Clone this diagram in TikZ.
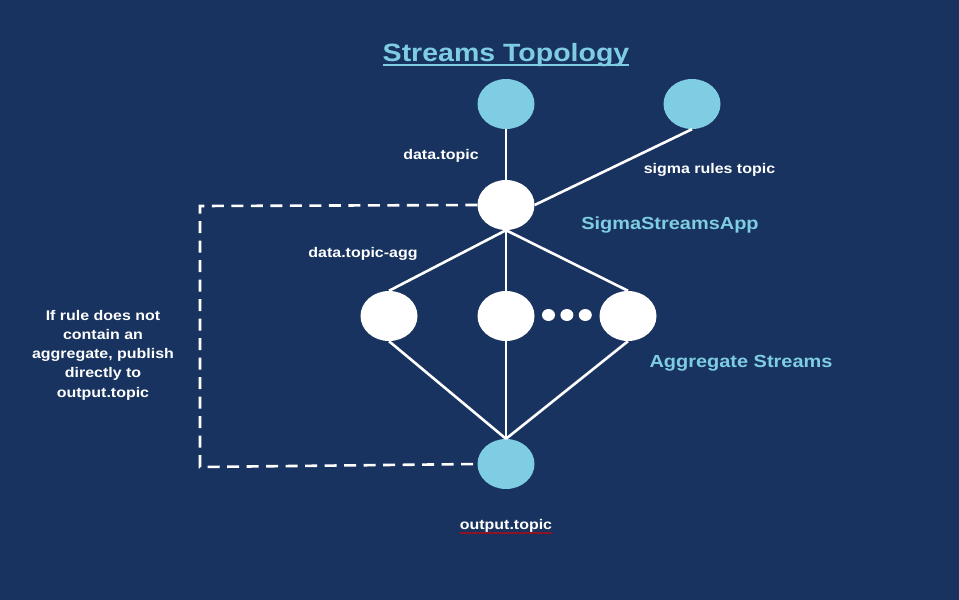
\documentclass[tikz,border=0pt]{standalone}
\usepackage{fontspec}
\setmainfont{Liberation Sans}[FakeStretch=1.14]
\usetikzlibrary{shapes.geometric, positioning, decorations.pathmorphing}
\definecolor{navy}{RGB}{24,51,95}
\definecolor{skyblue}{RGB}{127,205,227}
\tikzstyle{link} = [white, line width=2.6pt]
\tikzstyle{bypass} = [white, line width=2.6pt, dash pattern=on 12pt off 7.5pt]

\begin{document}
\begin{tikzpicture}
	[x=1pt, y=-1pt,
	topic/.style={ellipse, fill=skyblue, minimum width=57pt, minimum height=50pt, inner sep=0pt},
	stream/.style={ellipse, fill=white, minimum width=57pt, minimum height=50pt, inner sep=0pt},
	dot/.style={ellipse, fill=white, minimum width=13pt, minimum height=12pt, inner sep=0pt},
	tag/.style={text=white, font=\bfseries\fontsize{14}{19.25}\selectfont, inner sep=0pt, anchor=base},
	heading/.style={text=skyblue, font=\bfseries\fontsize{17.5}{20}\selectfont, inner sep=0pt, anchor=base}]
	\fill[navy] (0,0) rectangle (959,600);

	\node (title) [heading, font=\bfseries\fontsize{25}{28}\selectfont] at (506,61) {Streams Topology};
	\draw[skyblue, line width=2pt] ([yshift=-3.5pt]title.base west) -- ([yshift=-3.5pt]title.base east);

	\node (datatopic) [topic] at (506,104) {};
	\node (rulestopic) [topic] at (692,104) {};
	\node (sigma) [stream] at (506,205) {}
		edge [link] (datatopic);
	\draw[link] (rulestopic.south) -- (sigma.east);

	\node (agg1) [stream] at (389,316) {};
	\node (agg2) [stream] at (506,316) {};
	\node (agg3) [stream] at (628,316) {};
	\node (dot1) [dot] at (548.5,315) {};
	\node (dot2) [dot, right=5pt of dot1] {};
	\node (dot3) [dot, right=5pt of dot2] {};
	\node (output) [topic] at (506,464) {};

	\foreach \n in {agg1, agg2, agg3} {
		\draw[link] (sigma.south) -- (\n.north);
		\draw[link] (\n.south) -- (output.north);
	}

	% path that skips the aggregate streams
	\coordinate (corner1) at (200,206);
	\coordinate (corner2) at (200,467);
	\draw[bypass] (sigma.west) -- (corner1) -- (corner2) -- (output.west);

	\node (datalabel) [tag] at (441,159) {data.topic};
	\node (ruleslabel) [tag] at (709.5,173) {sigma rules topic};
	\node (agglabel) [tag] at (363,257) {data.topic-agg};
	\node (outlabel) [tag] at (506,529) {output.topic};
	\draw[red!85!black, line width=0.6pt, decorate, decoration={snake, amplitude=0.7pt, segment length=2.5pt}]
		([yshift=-4pt]outlabel.base west) -- ([yshift=-4pt]outlabel.base east);
	\node (bypasslabel) [tag, anchor=center, align=center] at (103,355)
		{If rule does not\\contain an\\aggregate, publish\\directly to\\output.topic};

	\node (sigmalabel) [heading] at (670,229) {SigmaStreamsApp};
	\node (agglabel2) [heading] at (741,367) {Aggregate Streams};
\end{tikzpicture}
\end{document}
